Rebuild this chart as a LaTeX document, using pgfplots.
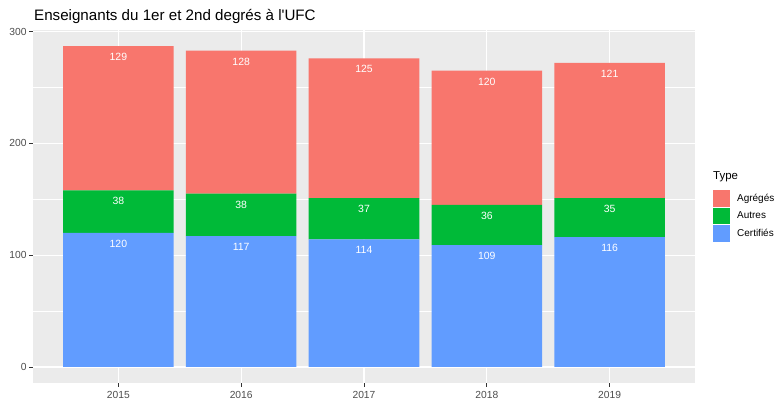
\documentclass[border=0pt]{standalone}
\usepackage{fontspec}
\setmainfont{Liberation Sans}
\usepackage{pgfplots}
\pgfplotsset{compat=1.18}
\definecolor{agreg}{HTML}{F8766D}
\definecolor{autres}{HTML}{00BA38}
\definecolor{certif}{HTML}{619CFF}
\definecolor{panelbg}{HTML}{EBEBEB}
\definecolor{ticktxt}{HTML}{4D4D4D}
\definecolor{tickcol}{HTML}{333333}

\begin{document}
\begin{tikzpicture}
\begin{axis}[
scale only axis, width=662bp, height=353bp,
xmin=0.305, xmax=5.695, ymin=-14.35, ymax=301.35,
ybar stacked, bar width=0.9,
/pgf/number format/assume math mode=true,
axis line style={draw=none},
axis background/.style={fill=panelbg},
xtick={1,...,5}, xticklabels={2015,2016,2017,2018,2019},
ytick={0,100,200,300}, minor ytick={50,150,250},
xmajorgrids, ymajorgrids, yminorgrids,
major grid style={white, line width=1.1bp},
minor grid style={white, line width=0.55bp},
tick align=outside, major tick length=3.7bp, minor tick length=0pt,
tick pos=left,
major tick style={tickcol, line width=0.8bp},
tick label style={font=\fontsize{10.3}{10.3}\selectfont, text=ticktxt},
yticklabel style={inner sep=0pt, xshift=-2.6bp},
xticklabel style={inner sep=0pt, yshift=-4.5bp},
point meta=explicit,
nodes near coords,
visualization depends on=rawy \as \rawy,
nodes near coords align={anchor=north},
every node near coord/.append style={anchor=north, yshift=0.559*\rawy*1bp-7bp,
  inner sep=0pt, text=white, font=\fontsize{10.5}{10.5}\selectfont},
reverse legend,
legend style={at={(1,0.473)}, anchor=west, xshift=18bp, draw=none, fill=none,
  inner sep=0pt, row sep=0pt, column sep=7bp,
  font=\fontsize{10}{10}\selectfont,
  nodes={inner sep=0pt, minimum height=17.3bp}, cells={anchor=west}},
]
\addplot[fill=certif, draw=none,
  legend image code/.code={\fill[certif] (0bp,-8.4bp) rectangle (17bp,8.4bp);}]
  coordinates {(1,120) [120] (2,117) [117] (3,114) [114] (4,109) [109] (5,116) [116]};
\addlegendentry{Certifiés}
\addplot[fill=autres, draw=none,
  legend image code/.code={\fill[autres] (0bp,-8.4bp) rectangle (17bp,8.4bp);}]
  coordinates {(1,38) [38] (2,38) [38] (3,37) [37] (4,36) [36] (5,35) [35]};
\addlegendentry{Autres}
\addplot[fill=agreg, draw=none,
  legend image code/.code={\fill[agreg] (0bp,-8.4bp) rectangle (17bp,8.4bp);}]
  coordinates {(1,129) [129] (2,128) [128] (3,125) [125] (4,120) [120] (5,121) [121]};
\addlegendentry{Agrégés}
\coordinate (pSW) at (rel axis cs:0,0);
\coordinate (pNW) at (rel axis cs:0,1);
\coordinate (pNE) at (rel axis cs:1,1);
\end{axis}
\node[anchor=base west, inner sep=0pt, font=\fontsize{15.2}{15.2}\selectfont]
  at ([xshift=1bp,yshift=9.5bp]pNW) {Enseignants du 1er et 2nd degrés à l\textquotesingle UFC};
\node[anchor=base west, inner sep=0pt, font=\fontsize{11.5}{11.5}\selectfont]
  at ([xshift=18bp,yshift=-149.5bp]pNE) {Type};
\pgfresetboundingbox
\path[use as bounding box] (pSW) ++(-33bp,-18bp) rectangle ++(778bp,401bp);
\end{tikzpicture}
\end{document}
